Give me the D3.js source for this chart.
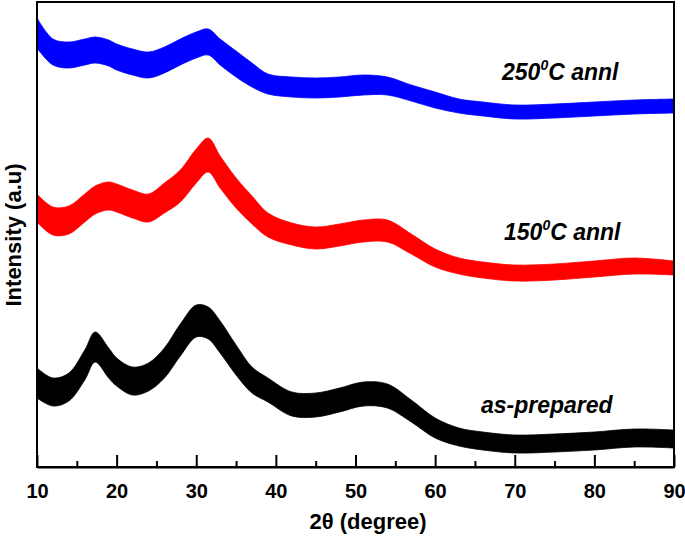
<!DOCTYPE html>
<html>
<head>
<meta charset="utf-8">
<script src="https://cdn.jsdelivr.net/npm/d3@7/dist/d3.min.js"></script>
<style>
  html, body { margin: 0; padding: 0; background: #fff; }
  svg text { font-family: "Liberation Sans", Arial, sans-serif; }
</style>
</head>
<body>
<svg id="chart" width="685" height="536"></svg>
<script>
// 2θ positions (degree) where the traces were read
const twoTheta = [10, 12, 14, 16, 17.3, 19, 20, 22, 24, 26, 28, 30, 31.5, 33, 35, 37, 39, 42, 45, 48, 51, 54, 57, 60, 63, 66, 70, 75, 80, 85, 90];

// centre intensity (a.u., offset stacked) of each trace
const asPrepared = [84, 75, 80, 102, 120, 104, 95, 86, 90, 104, 127, 146, 144, 130, 107, 87, 77, 63, 62, 67, 73, 71, 56, 39, 30, 26, 23, 24, 26, 29, 28];
const annl150    = [259, 246, 247, 259, 267, 271, 269, 263, 259, 269, 281, 301, 312, 295, 274, 257, 242, 233, 229, 232, 236, 236, 223, 209, 201, 197, 194, 195, 198, 201, 199];
const annl250    = [434, 415, 412, 415, 417, 414, 410, 405, 402, 407, 415, 422, 425, 415, 403, 392, 383, 380, 379, 380, 382, 381, 374, 367, 361, 358, 355, 356, 358, 360, 361];

// half width of the noise band of each trace (a.u.)
const noiseAsPrepared = [15, 14, 14, 15, 15, 15, 14, 14, 14, 15, 16, 16, 16, 16, 15, 13, 12, 12, 12, 12, 12, 12, 11, 10, 9, 9, 9, 9, 9, 9, 9];
const noise150        = [14, 14, 14, 14, 14, 14, 14, 14, 14, 15, 16, 17, 17, 16, 15, 14, 12, 11, 11, 11, 11, 11, 10, 9, 8, 8, 8, 8, 8, 8, 7];
const noise250        = [15, 13, 13, 13, 13, 13, 13, 13, 13, 13, 13, 13, 13, 13, 13, 12, 10, 10, 10, 10, 10, 9, 8, 8, 7, 7, 7, 7, 7, 7, 7];

const seriesNames = ["as-prepared", "150", "250"];
const seriesColors = ["#000000", "#ff0000", "#0000ff"];

const xTicks = [10, 20, 30, 40, 50, 60, 70, 80, 90];
const xMinorTicks = [15, 25, 35, 45, 55, 65, 75, 85];

const svg = d3.select("#chart");
const m = { left: 37, right: 674, top: 2, bottom: 467 };

const x = d3.scaleLinear().domain([10, 90]).range([m.left, m.right]);
const y = d3.scaleLinear().domain([0, 465]).range([m.bottom, m.top]);

const series = [
  { name: seriesNames[0], vals: asPrepared, noise: noiseAsPrepared, color: seriesColors[0] },
  { name: seriesNames[1], vals: annl150, noise: noise150, color: seriesColors[1] },
  { name: seriesNames[2], vals: annl250, noise: noise250, color: seriesColors[2] }
];

const area = d3.area()
  .x(d => x(d.t))
  .y0(d => y(d.v - d.n))
  .y1(d => y(d.v + d.n))
  .curve(d3.curveCatmullRom.alpha(0.5));

const g = svg.append("g");
series.forEach(s => {
  const pts = twoTheta.map((t, i) => ({ t, v: s.vals[i], n: s.noise[i] }));
  g.append("path")
    .datum(pts)
    .attr("d", area)
    .attr("fill", s.color)
    .attr("stroke", s.color)
    .attr("stroke-width", 0.8)
    .attr("stroke-linejoin", "round");
});

// frame
svg.append("rect")
  .attr("x", m.left).attr("y", m.top)
  .attr("width", m.right - m.left).attr("height", m.bottom - m.top)
  .attr("fill", "none").attr("stroke", "#000").attr("stroke-width", 2);

// bottom axis, ticks inward
const xAxis = d3.axisBottom(x).tickValues(xTicks).tickSizeInner(-12).tickSizeOuter(0).tickPadding(17).tickFormat(d3.format("d"));
const ax = svg.append("g").attr("transform", `translate(0,${m.bottom})`).call(xAxis);
ax.select(".domain").attr("stroke-width", 2);
ax.selectAll(".tick line").attr("stroke-width", 2);
ax.selectAll(".tick text").attr("font-size", 20).attr("font-weight", "bold").attr("fill", "#000")
  .attr("font-family", "Liberation Sans, Arial, sans-serif");

const minor = d3.axisBottom(x).tickValues(xMinorTicks).tickSizeInner(-6).tickSizeOuter(0).tickFormat("");
const mx = svg.append("g").attr("transform", `translate(0,${m.bottom})`).call(minor);
mx.select(".domain").remove();
mx.selectAll(".tick line").attr("stroke-width", 2);

// axis titles
svg.append("text")
  .attr("x", 368).attr("y", 529)
  .attr("text-anchor", "middle").attr("font-size", 22).attr("font-weight", "bold")
  .text("2θ (degree)");

svg.append("text")
  .attr("transform", "translate(21,235) rotate(-90)")
  .attr("text-anchor", "middle").attr("font-size", 22).attr("font-weight", "bold")
  .text("Intensity (a.u)");

// series labels
function tempLabel(temp, xPos, yPos) {
  const t = svg.append("text")
    .attr("x", xPos).attr("y", yPos)
    .attr("font-size", 23).attr("font-weight", "bold").attr("font-style", "italic");
  t.append("tspan").text(temp);
  t.append("tspan").attr("font-size", 14).attr("dy", -10).text("0");
  t.append("tspan").attr("dy", 10).text("C annl");
}
tempLabel("250", 502, 80);
tempLabel("150", 504, 240);

svg.append("text")
  .attr("x", 481).attr("y", 413)
  .attr("font-size", 23).attr("font-weight", "bold").attr("font-style", "italic")
  .text("as-prepared");
</script>
</body>
</html>
